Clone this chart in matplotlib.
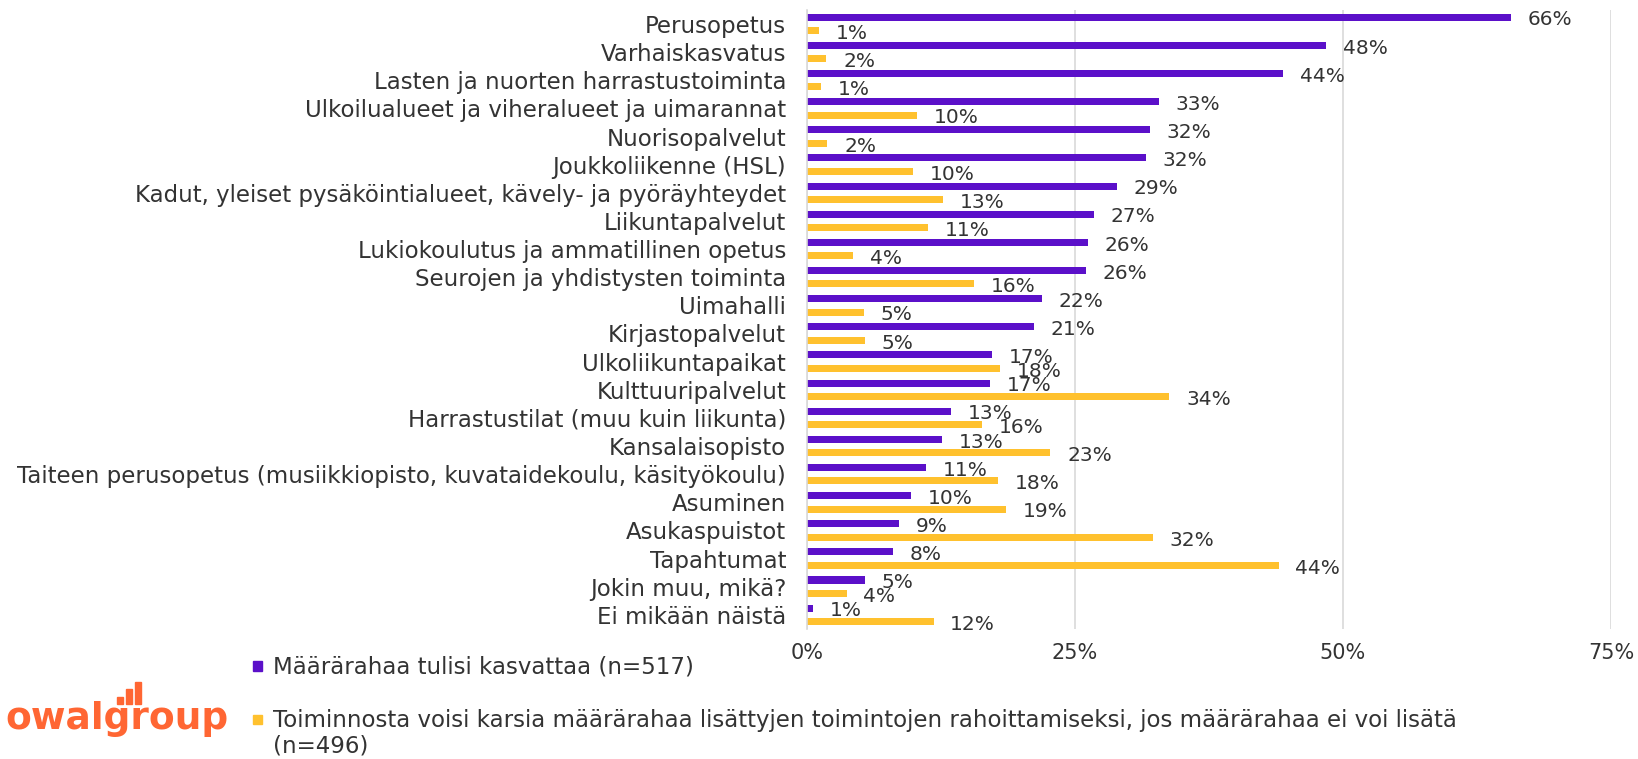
import numpy as np
import matplotlib.pyplot as plt
from matplotlib.patches import Rectangle

categories = [
    "Perusopetus",
    "Varhaiskasvatus",
    "Lasten ja nuorten harrastustoiminta",
    "Ulkoilualueet ja viheralueet ja uimarannat",
    "Nuorisopalvelut",
    "Joukkoliikenne (HSL)",
    "Kadut, yleiset pysäköintialueet, kävely- ja pyöräyhteydet",
    "Liikuntapalvelut",
    "Lukiokoulutus ja ammatillinen opetus",
    "Seurojen ja yhdistysten toiminta",
    "Uimahalli",
    "Kirjastopalvelut",
    "Ulkoliikuntapaikat",
    "Kulttuuripalvelut",
    "Harrastustilat (muu kuin liikunta)",
    "Kansalaisopisto",
    "Taiteen perusopetus (musiikkiopisto, kuvataidekoulu, käsityökoulu)",
    "Asuminen",
    "Asukaspuistot",
    "Tapahtumat",
    "Jokin muu, mikä?",
    "Ei mikään näistä",
]
kasvattaa = [65.7, 48.4, 44.4, 32.8, 32.0, 31.6, 28.9, 26.8, 26.2, 26.0, 21.9,
             21.2, 17.3, 17.1, 13.4, 12.6, 11.1, 9.7, 8.6, 8.0, 5.4, 0.6]
karsia = [1.1, 1.8, 1.3, 10.3, 1.9, 9.9, 12.7, 11.3, 4.3, 15.6, 5.3,
          5.4, 18.0, 33.8, 16.3, 22.7, 17.8, 18.6, 32.3, 44.0, 3.7, 11.8]
series_names = [
    "Määrärahaa tulisi kasvattaa (n=517)",
    "Toiminnosta voisi karsia määrärahaa lisättyjen toimintojen rahoittamiseksi, jos määrärahaa ei voi lisätä\n(n=496)",
]
xticks = [0, 25, 50, 75]

purple = "#5b10c9"
yellow = "#ffc12e"
txt = "#333333"

plt.rcParams['font.family'] = ['DejaVu Sans']
fig = plt.figure(figsize=(16.38, 7.59), dpi=100)
ax = fig.add_axes([0.4927, 0.1713, 0.4908, 0.8157])

y = np.arange(len(categories))
h = 0.25
off = 0.24
ax.barh(y - off, kasvattaa, height=h, color=purple)
ax.barh(y + off, karsia, height=h, color=yellow)

for yy, v in zip(y - off, kasvattaa):
    ax.annotate(f"{round(v)}%", (v, yy), xytext=(12, -2), textcoords="offset points",
                va="center", ha="left", fontsize=14.5, color=txt)
for yy, v in zip(y + off, karsia):
    ax.annotate(f"{round(v)}%", (v, yy), xytext=(12, -2), textcoords="offset points",
                va="center", ha="left", fontsize=14.5, color=txt)

ax.set_xlim(0, 75)
ax.set_ylim(len(categories) - 0.5, -0.5)
ax.set_yticks(y)
ax.set_yticklabels(categories, fontsize=16.5, color=txt)
ax.set_xticks(xticks)
ax.set_xticklabels([f"{t}%" for t in xticks], fontsize=15, color=txt)
ax.tick_params(axis="y", length=0, pad=15)
ax.tick_params(axis="x", length=0, pad=10)
ax.grid(axis="x", color="#d9d9d9", linewidth=1.2)
ax.set_axisbelow(True)
for s in ["top", "right", "bottom"]:
    ax.spines[s].set_visible(False)
ax.spines["left"].set_color("#d9d9d9")
ax.spines["left"].set_linewidth(1.2)

# legend (drawn by hand so the marker sits on the first line)
for (ly, col), name in zip([(0.1225, purple), (0.052, yellow)], series_names):
    fig.add_artist(Rectangle((0.1545, ly - 0.0065), 0.0052, 0.0125,
                             transform=fig.transFigure, color=col))
    fig.text(0.1665, ly + 0.0145, name, fontsize=16.5, color=txt, va="top", ha="left",
             linespacing=1.15)

# logo
orange = "#ff6633"
fig.text(0.003, 0.0395, "owalgroup", color=orange, fontsize=27, fontweight="bold",
         va="baseline", ha="left")
for i, hh in enumerate([0.0095, 0.0198, 0.029]):
    fig.add_artist(Rectangle((0.0715 + i * 0.0054, 0.072), 0.0037, hh,
                             transform=fig.transFigure, color=orange))

fig.savefig("out.png", dpi=100)
